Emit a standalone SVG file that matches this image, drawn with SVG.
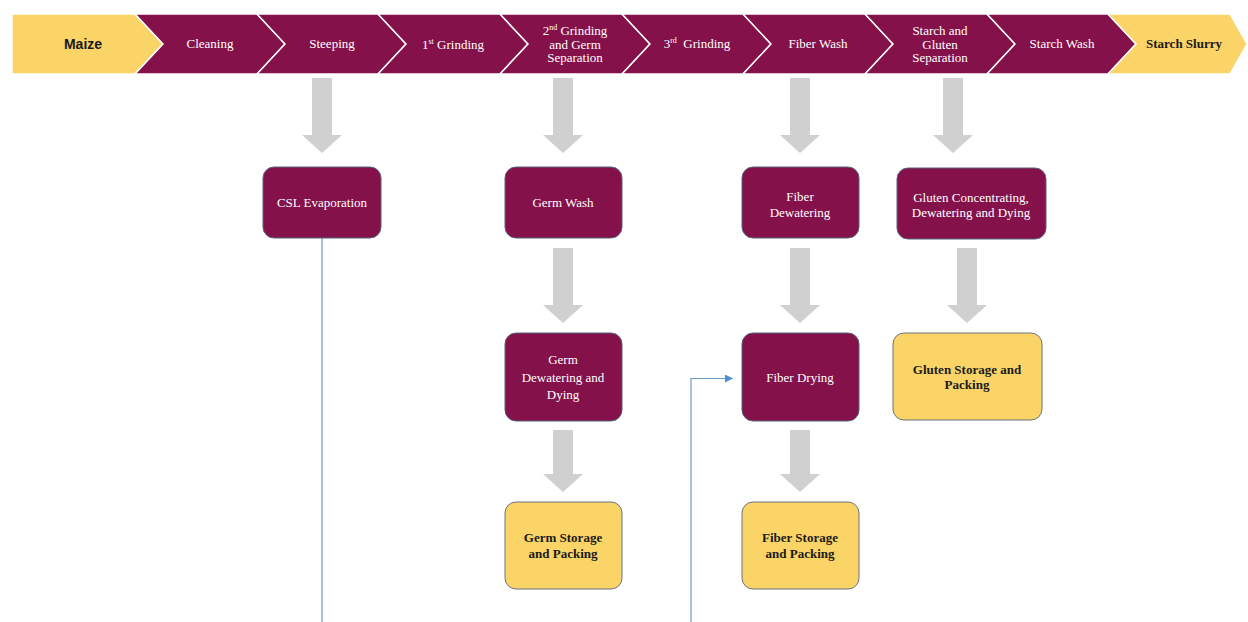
<svg xmlns="http://www.w3.org/2000/svg" width="1248" height="622" viewBox="0 0 1248 622">
<defs>
<style>
.chp{fill:#85114A;stroke:#ffffff;stroke-width:1.5}
.chy{fill:#FAD466;stroke:#ffffff;stroke-width:1.5}
.tw{font-family:"Liberation Serif","Times New Roman",serif;font-size:13px;fill:#ffffff;text-anchor:middle}
.tb{font-family:"Liberation Serif","Times New Roman",serif;font-size:13px;font-weight:bold;fill:#1a1a1a;text-anchor:middle}
.bp{fill:#85114A;stroke:#56657A;stroke-width:1}
.by{fill:#FAD466;stroke:#6B7280;stroke-width:1}
.ga{fill:#D0D0D0}
.conn{fill:none;stroke:#6A9CCB;stroke-width:1.2}
</style>
<path id="ga75" d="M-10,0 H10 V57 H20 L0,75 L-20,57 H-10 Z"/>
<path id="ga62" d="M-10,0 H10 V44 H20 L0,62 L-20,44 H-10 Z"/>
<marker id="ah" viewBox="0 0 10 10" refX="10" refY="5" markerWidth="8" markerHeight="8" markerUnits="userSpaceOnUse" orient="auto">
<path d="M0,0 L10,5 L0,10 Z" fill="#4A90D0"/>
</marker>
</defs>
<rect width="1248" height="622" fill="#ffffff"/>

<g id="band">
<g id="maize"><polygon class="chy" points="12,14 135,14 163,44 135,74 12,74"/><text x="83" y="49" font-family="'Liberation Sans',Arial,sans-serif" font-size="14" font-weight="bold" fill="#1a1a1a" text-anchor="middle">Maize</text></g>
<g id="cleaning"><polygon class="chp" points="135,14 257,14 285,44 257,74 135,74 163,44"/><text class="tw" x="210" y="48">Cleaning</text></g>
<g id="steeping"><polygon class="chp" points="257,14 378,14 406,44 378,74 257,74 285,44"/><text class="tw" x="332" y="48">Steeping</text></g>
<g id="grinding1"><polygon class="chp" points="378,14 500,14 528,44 500,74 378,74 406,44"/><text class="tw" x="453" y="49">1<tspan font-size="8" dy="-5">st</tspan><tspan dy="5"> Grinding</tspan></text></g>
<g id="grinding2"><polygon class="chp" points="500,14 622,14 650,44 622,74 500,74 528,44"/><text class="tw" x="575" y="35">2<tspan font-size="8" dy="-5">nd</tspan><tspan dy="5"> Grinding</tspan></text><text class="tw" x="575" y="49">and Germ</text><text class="tw" x="575" y="62">Separation</text></g>
<g id="grinding3"><polygon class="chp" points="622,14 743,14 771,44 743,74 622,74 650,44"/><text class="tw" x="697" y="48" xml:space="preserve">3<tspan font-size="8" dy="-5">rd</tspan><tspan dy="5">  Grinding</tspan></text></g>
<g id="fiberwash"><polygon class="chp" points="743,14 865,14 893,44 865,74 743,74 771,44"/><text class="tw" x="818" y="48">Fiber Wash</text></g>
<g id="sgsep"><polygon class="chp" points="865,14 987,14 1015,44 987,74 865,74 893,44"/><text class="tw" x="940" y="35">Starch and</text><text class="tw" x="940" y="49">Gluten</text><text class="tw" x="940" y="62">Separation</text></g>
<g id="starchwash"><polygon class="chp" points="987,14 1108,14 1136,44 1108,74 987,74 1015,44"/><text class="tw" x="1062" y="48">Starch Wash</text></g>
<g id="slurry"><polygon class="chy" points="1108,14 1230,14 1247,44 1230,74 1108,74 1136,44"/><text class="tb" x="1184" y="48">Starch Slurry</text></g>
</g>

<g id="connectors">
<use href="#ga75" class="ga" x="322" y="78"/>
<use href="#ga75" class="ga" x="563" y="78"/>
<use href="#ga75" class="ga" x="800" y="78"/>
<use href="#ga75" class="ga" x="953" y="78"/>
<use href="#ga75" class="ga" x="563" y="248"/>
<use href="#ga75" class="ga" x="800" y="248"/>
<use href="#ga75" class="ga" x="967" y="248"/>
<use href="#ga62" class="ga" x="563" y="430"/>
<use href="#ga62" class="ga" x="800" y="430"/>
<path class="conn" d="M322,238 V628 H691 V378.5 H733" marker-end="url(#ah)"/>
</g>

<g id="csl"><rect class="bp" x="263" y="167" width="118" height="71" rx="11"/><text class="tw" x="322" y="207">CSL Evaporation</text></g>
<g id="germwash"><rect class="bp" x="505" y="167" width="117" height="71" rx="11"/><text class="tw" x="563" y="207">Germ Wash</text></g>
<g id="fiberdew"><rect class="bp" x="742" y="167" width="117" height="71" rx="11"/><text class="tw" x="800" y="201">Fiber</text><text class="tw" x="800" y="217">Dewatering</text></g>
<g id="glutenconc"><rect class="bp" x="897" y="168" width="149" height="71" rx="11"/><text class="tw" x="971" y="202">Gluten Concentrating,</text><text class="tw" x="971" y="217">Dewatering and Dying</text></g>
<g id="germdew"><rect class="bp" x="505" y="333" width="117" height="88" rx="11"/><text class="tw" x="563" y="364">Germ</text><text class="tw" x="563" y="382">Dewatering and</text><text class="tw" x="563" y="399">Dying</text></g>
<g id="fiberdry"><rect class="bp" x="742" y="333" width="117" height="88" rx="11"/><text class="tw" x="800" y="382">Fiber Drying</text></g>
<g id="glutenstore"><rect class="by" x="893" y="333" width="149" height="87" rx="11"/><text class="tb" x="967" y="374">Gluten Storage and</text><text class="tb" x="967" y="389">Packing</text></g>
<g id="germstore"><rect class="by" x="505" y="502" width="117" height="87" rx="11"/><text class="tb" x="563" y="542">Germ Storage</text><text class="tb" x="563" y="558">and Packing</text></g>
<g id="fiberstore"><rect class="by" x="742" y="502" width="117" height="87" rx="11"/><text class="tb" x="800" y="542">Fiber Storage</text><text class="tb" x="800" y="558">and Packing</text></g>
</svg>
